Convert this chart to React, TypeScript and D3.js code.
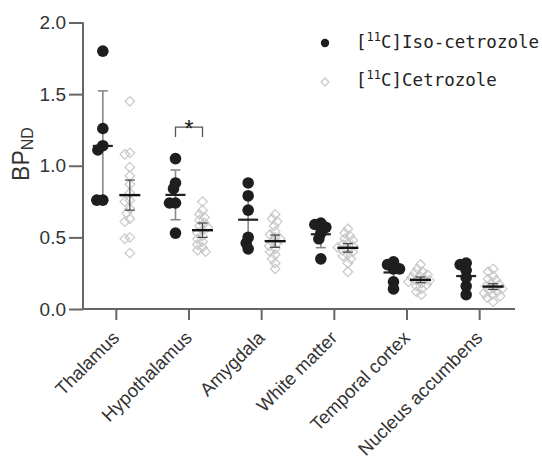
import React, { useEffect, useRef } from 'react';
import * as d3 from 'd3';

const regions = ['Thalamus', 'Hypothalamus', 'Amygdala', 'White matter', 'Temporal cortex', 'Nucleus accumbens'];

// [11C]Iso-cetrozole, one list per region (n = 6)
const isoValues = [
  [1.80, 1.26, 1.14, 1.11, 0.76, 0.76],
  [1.05, 0.88, 0.84, 0.74, 0.74, 0.53],
  [0.88, 0.79, 0.69, 0.50, 0.46, 0.42],
  [0.60, 0.59, 0.57, 0.53, 0.49, 0.35],
  [0.33, 0.31, 0.28, 0.28, 0.19, 0.14],
  [0.32, 0.31, 0.27, 0.22, 0.16, 0.10],
];

// [11C]Cetrozole, one list per region
const cetValues = [
  [1.45, 1.09, 1.08, 0.99, 0.93, 0.87, 0.81, 0.76, 0.75, 0.70, 0.67, 0.63, 0.61, 0.50, 0.49, 0.39],
  [0.75, 0.69, 0.66, 0.64, 0.62, 0.60, 0.58, 0.57, 0.55, 0.53, 0.51, 0.49, 0.47, 0.45, 0.43, 0.41, 0.40],
  [0.66, 0.63, 0.61, 0.58, 0.54, 0.52, 0.50, 0.49, 0.47, 0.46, 0.44, 0.42, 0.40, 0.38, 0.35, 0.32, 0.28],
  [0.56, 0.53, 0.51, 0.49, 0.48, 0.46, 0.45, 0.44, 0.43, 0.42, 0.41, 0.40, 0.38, 0.37, 0.35, 0.32, 0.26],
  [0.31, 0.28, 0.26, 0.25, 0.24, 0.23, 0.22, 0.21, 0.20, 0.20, 0.19, 0.18, 0.17, 0.16, 0.14, 0.12, 0.10],
  [0.28, 0.26, 0.23, 0.21, 0.20, 0.18, 0.17, 0.16, 0.15, 0.14, 0.13, 0.12, 0.11, 0.10, 0.09, 0.08, 0.05],
];

// error bar half-widths for cetrozole
const cetErr = [0.105, 0.05, 0.043, 0.03, 0.02, 0.02];

const yTicks = [0, 0.5, 1.0, 1.5, 2.0];

// significance bracket (Hypothalamus)
const sigRegion = 'Hypothalamus';
const sigTop = 1.27;
const sigLeg = 1.20;

const legendLabels = ['Iso-cetrozole', 'Cetrozole'];

function swarm(vals: number[], y: (v: number) => number, minD: number) {
  const placed: { v: number; py: number; dx: number }[] = [];
  [...vals].sort((a, b) => b - a).forEach(v => {
    const py = y(v);
    for (let k = 0; k < 60; k++) {
      const dx = k === 0 ? 0 : (k % 2 ? -1 : 1) * Math.ceil(k / 2);
      const ok = placed.every(q => (dx - q.dx) ** 2 + (py - q.py) ** 2 >= minD * minD);
      if (ok) { placed.push({ v, py, dx }); break; }
    }
  });
  return placed;
}

export default function App() {
  const ref = useRef<SVGSVGElement>(null);

  useEffect(() => {
    const svg = d3.select(ref.current);
    svg.selectAll('*').remove();

    const axisColor = '#666';
    const textColor = '#333';
    const sans = '"Liberation Sans", Arial, sans-serif';

    const x = d3.scaleBand<string>()
      .domain(regions)
      .range([80, 516]);

    const y = d3.scaleLinear()
      .domain([0, 2])
      .range([309, 22.5]);

    const off = 13.5;
    const cx = (r: string) => (x(r) as number) + x.bandwidth() / 2;

    // y axis
    const yAxis = svg.append('g')
      .attr('transform', 'translate(83,0)')
      .call(d3.axisLeft(y).tickValues(yTicks).tickFormat(d3.format('.1f')).tickSize(14).tickPadding(3));
    yAxis.select('.domain').attr('stroke', axisColor).attr('stroke-width', 2)
      .attr('d', `M0,${y(2)}V${y(0)}`);
    yAxis.selectAll('.tick line').attr('stroke', axisColor).attr('stroke-width', 2);
    yAxis.selectAll('.tick text')
      .attr('fill', textColor)
      .attr('font-family', sans)
      .attr('font-size', 19);

    // x axis
    const xAxis = svg.append('g')
      .attr('transform', `translate(0,${y(0)})`)
      .call(d3.axisBottom(x).tickSize(11).tickSizeOuter(0).tickPadding(4));
    xAxis.select('.domain').attr('stroke', axisColor).attr('stroke-width', 2)
      .attr('d', 'M82,0H515');
    xAxis.selectAll('.tick line').attr('stroke', axisColor).attr('stroke-width', 2);
    xAxis.selectAll('.tick text')
      .attr('fill', textColor)
      .attr('font-family', sans)
      .attr('font-size', 18.5)
      .attr('text-anchor', 'end')
      .attr('dy', null)
      .attr('y', 0)
      .attr('transform', 'translate(4,30) rotate(-45)');

    // y title
    const title = svg.append('text')
      .attr('transform', 'translate(29,154) rotate(-90)')
      .attr('text-anchor', 'middle')
      .attr('fill', textColor)
      .attr('font-family', sans)
      .attr('font-size', 23);
    title.append('tspan').text('BP');
    title.append('tspan').attr('font-size', 16).attr('dy', 4).text('ND');

    const diamond = (s: number) => `M0,${-s}L${s},0L0,${s}L${-s},0Z`;

    regions.forEach((r, i) => {
      const xi = cx(r) - off;
      const xc = cx(r) + off;

      // iso: mean +/- SD (behind the dots)
      const iso = isoValues[i];
      const im = d3.mean(iso) as number;
      const isd = d3.deviation(iso) as number;
      const ge = svg.append('g').attr('stroke', '#8a8a8a').attr('stroke-width', 1.6);
      ge.append('line').attr('x1', xi).attr('x2', xi).attr('y1', y(im + isd)).attr('y2', y(im - isd));
      ge.append('line').attr('x1', xi - 5).attr('x2', xi + 5).attr('y1', y(im + isd)).attr('y2', y(im + isd));
      ge.append('line').attr('x1', xi - 5).attr('x2', xi + 5).attr('y1', y(im - isd)).attr('y2', y(im - isd));
      svg.append('line')
        .attr('x1', xi - 10).attr('x2', xi + 10)
        .attr('y1', y(im)).attr('y2', y(im))
        .attr('stroke', '#222').attr('stroke-width', 2.2);

      svg.append('g').selectAll('circle')
        .data(swarm(iso, y, 6))
        .join('circle')
        .attr('cx', d => xi + d.dx)
        .attr('cy', d => d.py)
        .attr('r', 5.8)
        .attr('fill', '#1e1e1e');

      // cetrozole diamonds
      const cet = cetValues[i];
      svg.append('g').selectAll('path')
        .data(swarm(cet, y, 5))
        .join('path')
        .attr('transform', d => `translate(${xc + d.dx},${d.py})`)
        .attr('d', diamond(4.8))
        .attr('fill', 'none')
        .attr('stroke', '#c8c8c8')
        .attr('stroke-width', 1.2);

      const cm = d3.mean(cet) as number;
      const ce = cetErr[i];
      const gc = svg.append('g').attr('stroke', '#444').attr('stroke-width', 1.2);
      gc.append('line').attr('x1', xc).attr('x2', xc).attr('y1', y(cm + ce)).attr('y2', y(cm - ce));
      gc.append('line').attr('x1', xc - 5).attr('x2', xc + 5).attr('y1', y(cm + ce)).attr('y2', y(cm + ce));
      gc.append('line').attr('x1', xc - 5).attr('x2', xc + 5).attr('y1', y(cm - ce)).attr('y2', y(cm - ce));
      svg.append('line')
        .attr('x1', xc - 10.5).attr('x2', xc + 10.5)
        .attr('y1', y(cm)).attr('y2', y(cm))
        .attr('stroke', '#111').attr('stroke-width', 2.4);
    });

    // significance bracket
    const bx0 = cx(sigRegion) - off;
    const bx1 = cx(sigRegion) + off;
    svg.append('path')
      .attr('d', `M${bx0},${y(sigLeg)}V${y(sigTop)}H${bx1}V${y(sigLeg)}`)
      .attr('fill', 'none')
      .attr('stroke', '#555')
      .attr('stroke-width', 1.3);
    svg.append('text')
      .attr('x', (bx0 + bx1) / 2)
      .attr('y', y(sigTop) + 10)
      .attr('text-anchor', 'middle')
      .attr('font-family', sans)
      .attr('font-size', 23)
      .attr('fill', '#222')
      .text('*');

    // legend
    const mono = '"DejaVu Sans Mono", monospace';
    const lg = svg.append('g');
    lg.append('circle').attr('cx', 325).attr('cy', 43).attr('r', 4.2).attr('fill', '#1e1e1e');
    lg.append('path').attr('transform', 'translate(325,82)').attr('d', diamond(4))
      .attr('fill', 'none').attr('stroke', '#c4c4c4').attr('stroke-width', 1.1);
    legendLabels.forEach((lab, i) => {
      const t = lg.append('text')
        .attr('x', 356)
        .attr('y', i === 0 ? 48 : 86)
        .attr('font-family', mono)
        .attr('font-size', 17.5)
        .attr('fill', '#222');
      t.append('tspan').text('[');
      t.append('tspan').attr('font-size', 12).attr('dy', -7).text('11');
      t.append('tspan').attr('dy', 7).text(`C]${lab}`);
    });
  }, []);

  return (
    <div>
      <style>{'body{margin:0}'}</style>
      <svg ref={ref} width={542} height={469} style={{ display: 'block', background: '#fff' }} />
    </div>
  );
}
